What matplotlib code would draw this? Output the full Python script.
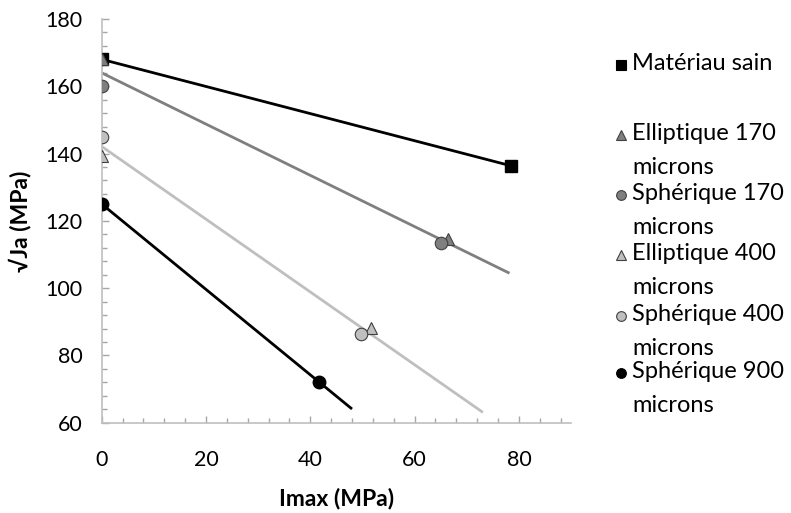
import numpy as np
import matplotlib
matplotlib.use("Agg")
import matplotlib.pyplot as plt
from matplotlib.lines import Line2D
from matplotlib.ticker import MultipleLocator

plt.rcParams['font.family'] = ['Lato', 'DejaVu Sans']

# valeurs
sain_x = [0, 78.4]
sain_y = [168, 136.4]
ell170_x = [0, 66.5]
ell170_y = [168, 114.5]
sph170_x = [0, 65]
sph170_y = [160, 113.3]
ell400_x = [0, 51.7]
ell400_y = [139.3, 88.2]
sph400_x = [0, 49.7]
sph400_y = [145, 86.3]
sph900_x = [0, 41.6]
sph900_y = [125, 72.2]

# fin des courbes de tendance (170, 400, 900)
trend_end = [78.2, 73.1, 48.0]

labels = ["Matériau sain", "Elliptique 170\nmicrons", "Sphérique 170\nmicrons",
          "Elliptique 400\nmicrons", "Sphérique 400\nmicrons", "Sphérique 900\nmicrons"]

dark = '#7f7f7f'
light = '#bfbfbf'
edge = '#404040'

fig = plt.figure(figsize=(7.91, 5.13), dpi=100)
ax = fig.add_axes([0.1286, 0.176, 0.7219 - 0.1286, 0.963 - 0.176])

# courbes de tendance
def trend(xs, ys, xend, color):
    a, b = np.polyfit(xs, ys, 1)
    xx = np.array([0, xend])
    ax.plot(xx, a * xx + b, color=color, lw=2, zorder=2, solid_capstyle='butt')

ax.plot(sain_x, sain_y, color='black', lw=2, zorder=2)
trend(ell170_x + sph170_x, ell170_y + sph170_y, trend_end[0], dark)
trend(ell400_x + sph400_x, ell400_y + sph400_y, trend_end[1], light)
trend(sph900_x, sph900_y, trend_end[2], 'black')

ax.plot(sain_x, sain_y, 's', ms=9, color='black', zorder=3, ls='none')
ax.plot(ell170_x, ell170_y, '^', ms=9, mfc=dark, mec=edge, mew=0.8, ls='none', zorder=4)
ax.plot(sph170_x, sph170_y, 'o', ms=9, mfc=dark, mec=edge, mew=0.8, ls='none', zorder=4)
ax.plot(ell400_x, ell400_y, '^', ms=9, mfc=light, mec=edge, mew=0.8, ls='none', zorder=4)
ax.plot(sph400_x, sph400_y, 'o', ms=9, mfc=light, mec=edge, mew=0.8, ls='none', zorder=4)
ax.plot(sph900_x, sph900_y, 'o', ms=9, color='black', ls='none', zorder=4)

ax.set_xlim(0, 90)
ax.set_ylim(60, 180)
ax.xaxis.set_major_locator(MultipleLocator(20))
ax.xaxis.set_minor_locator(MultipleLocator(4))
ax.yaxis.set_major_locator(MultipleLocator(20))
ax.yaxis.set_minor_locator(MultipleLocator(4))
for s in ['top', 'right']:
    ax.spines[s].set_visible(False)
for s in ['left', 'bottom']:
    ax.spines[s].set_color('#bfbfbf')
    ax.spines[s].set_linewidth(1.2)
ax.tick_params(which='both', direction='in', color='#a6a6a6', labelsize=15.5)
ax.tick_params(which='major', length=5, width=1)
ax.tick_params(which='minor', length=3.5, width=1)
ax.tick_params(axis='x', which='major', pad=20)
ax.tick_params(axis='y', which='major', pad=14)
ax.set_xlabel("Imax (MPa)", fontsize=16.5, fontweight='bold', labelpad=12)
ax.set_ylabel("√Ja (MPa)", fontsize=16.5, fontweight='bold', labelpad=10)

# légende
leg_style = [
    dict(marker='s', mfc='black', mec='black'),
    dict(marker='^', mfc=dark, mec=edge),
    dict(marker='o', mfc=dark, mec=edge),
    dict(marker='^', mfc=light, mec=edge),
    dict(marker='o', mfc=light, mec=edge),
    dict(marker='o', mfc='black', mec='black'),
]
leg_y = [65, 135, 195, 255, 316, 373]
for lab, st, y in zip(labels, leg_style, leg_y):
    yf = 1 - y / 513
    fig.add_artist(Line2D([621 / 791], [yf], transform=fig.transFigure,
                          ls='none', ms=7, mew=0.8, **st))
    fig.text(632 / 791, yf + 12 / 513, lab, fontsize=17, va='top', ha='left',
             linespacing=1.75)

fig.savefig("out.png", dpi=100)
